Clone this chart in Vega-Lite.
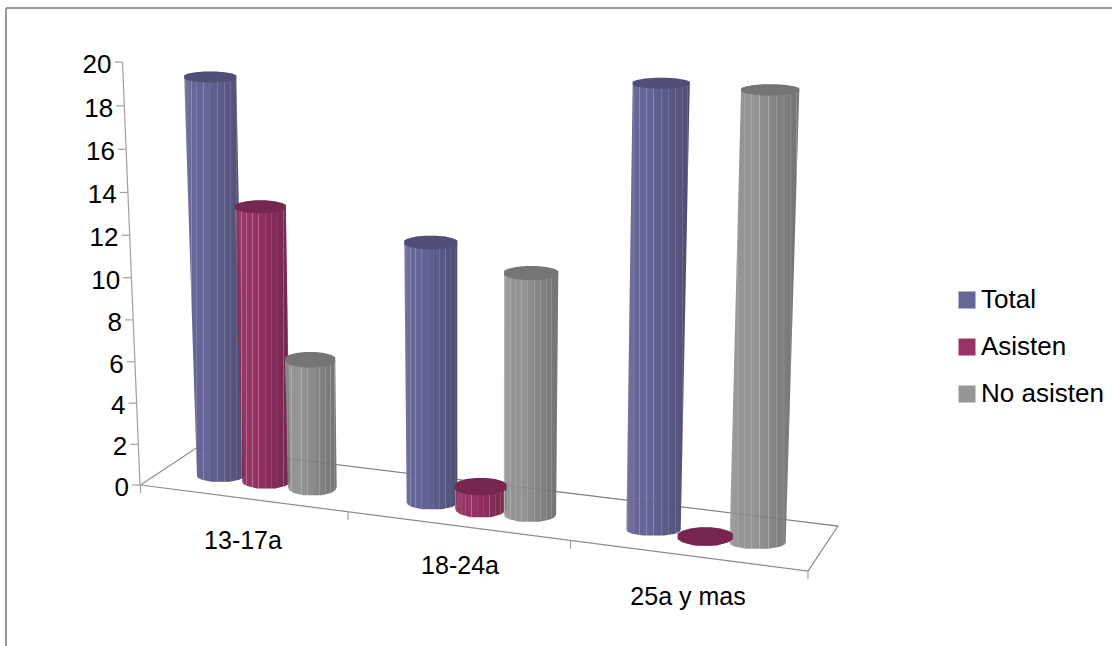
{"$schema":"https://vega.github.io/schema/vega-lite/v6.json","width":1112,"height":646,"padding":0,"autosize":{"type":"none"},"background":"white","config":{"view":{"stroke":null}},
"datasets":{"bars":[{"category":"13-17a","series":"Total","value":19},{"category":"13-17a","series":"Asisten","value":13},{"category":"13-17a","series":"No asisten","value":6},{"category":"18-24a","series":"Total","value":12},{"category":"18-24a","series":"Asisten","value":1},{"category":"18-24a","series":"No asisten","value":11},{"category":"25a y mas","series":"Total","value":20},{"category":"25a y mas","series":"Asisten","value":0},{"category":"25a y mas","series":"No asisten","value":20}],
"ticks":[{"tick":0},{"tick":2},{"tick":4},{"tick":6},{"tick":8},{"tick":10},{"tick":12},{"tick":14},{"tick":16},{"tick":18},{"tick":20}],
"floor":[{"i":0,"u":0,"v":0},{"i":1,"u":3,"v":0},{"i":2,"u":3,"v":1},{"i":3,"u":0,"v":1},{"i":4,"u":0,"v":0}],
"backEdge":[{"i":0,"u":0,"v":1},{"i":1,"u":3,"v":1}],
"boundaries":[{"b":0},{"b":1},{"b":2},{"b":3}],
"cats":[{"category":"13-17a","c":0},{"category":"18-24a","c":1},{"category":"25a y mas","c":2}]},
"layer":[
{"data":{"values":[{"k":1}]},"mark":{"type":"rule","stroke":"#9a9a9a","strokeWidth":2},"encoding":{"x":{"datum":-1.0387,"type":"quantitative","scale":{"domain":[-1.0678,4.3172],"nice":false,"zero":false},"axis":null},"y":{"datum":22.553,"type":"quantitative","scale":{"domain":[-7.61,22.93],"nice":false,"zero":false},"axis":null},"y2":{"datum":-7.61}}},
{"data":{"values":[{"k":1}]},"mark":{"type":"rule","stroke":"#9a9a9a","strokeWidth":2},"encoding":{"x":{"datum":-1.0387,"type":"quantitative","scale":{"domain":[-1.0678,4.3172],"nice":false,"zero":false},"axis":null},"x2":{"datum":4.3172},"y":{"datum":22.553,"type":"quantitative","scale":{"domain":[-7.61,22.93],"nice":false,"zero":false},"axis":null}}},
{"data":{"name":"floor"},"transform":[{"calculate":"(1-datum.v)*(-0.3874+datum.u/3*3.2324)+datum.v*(-0.1138+datum.u/3*3.1038)","as":"px"},{"calculate":"(1-datum.v)*(-datum.u/3*4.066)+datum.v*(1.773-datum.u/3*3.712)","as":"py"}],"mark":{"type":"line","stroke":"#8c8c8c","strokeWidth":1.2,"interpolate":"linear"},"encoding":{"x":{"field":"px","type":"quantitative","scale":{"domain":[-1.0678,4.3172],"nice":false,"zero":false},"axis":null},"y":{"field":"py","type":"quantitative","scale":{"domain":[-7.61,22.93],"nice":false,"zero":false},"axis":null},"order":{"field":"i"}}},
{"data":{"name":"boundaries"},"transform":[{"calculate":"-0.3874+0.9685*datum.b+0.0363*datum.b*datum.b","as":"px"},{"calculate":"-1.2576*(datum.px+0.3874)","as":"py"},{"calculate":"datum.py-0.39","as":"py2"}],"mark":{"type":"rule","stroke":"#a0a0a0","strokeWidth":1.2},"encoding":{"x":{"field":"px","type":"quantitative","scale":{"domain":[-1.0678,4.3172],"nice":false,"zero":false},"axis":null},"y":{"field":"py","type":"quantitative","scale":{"domain":[-7.61,22.93],"nice":false,"zero":false},"axis":null},"y2":{"field":"py2"}}},
{"data":{"name":"ticks"},"transform":[{"calculate":"-0.3898-0.004237*datum.tick","as":"px"},{"calculate":"datum.tick*(20.3+0.0425*datum.tick)/21.15","as":"py"},{"calculate":"datum.px-0.0387","as":"px2"}],"layer":[
{"transform":[{"filter":"datum.tick==0||datum.tick==20"}],"mark":{"type":"line","stroke":"#a0a0a0","strokeWidth":1.2},"encoding":{"x":{"field":"px","type":"quantitative","scale":{"domain":[-1.0678,4.3172],"nice":false,"zero":false},"axis":null},"y":{"field":"py","type":"quantitative","scale":{"domain":[-7.61,22.93],"nice":false,"zero":false},"axis":null},"order":{"field":"tick"}}},
{"mark":{"type":"rule","stroke":"#a0a0a0","strokeWidth":1.2},"encoding":{"x":{"field":"px","type":"quantitative","scale":{"domain":[-1.0678,4.3172],"nice":false,"zero":false},"axis":null},"x2":{"field":"px2"},"y":{"field":"py","type":"quantitative","scale":{"domain":[-7.61,22.93],"nice":false,"zero":false},"axis":null}}},
{"mark":{"type":"text","align":"right","baseline":"middle","dx":-11,"dy":3,"font":"Liberation Sans","fontSize":26,"fill":"#000"},"encoding":{"x":{"field":"px","type":"quantitative","scale":{"domain":[-1.0678,4.3172],"nice":false,"zero":false},"axis":null},"y":{"field":"py","type":"quantitative","scale":{"domain":[-7.61,22.93],"nice":false,"zero":false},"axis":null},"text":{"field":"tick","type":"quantitative"}}}
]},
{"data":{"name":"cats"},"transform":[{"calculate":"0.109+1.0245*datum.c+0.0265*datum.c*datum.c","as":"px"},{"calculate":"-2.648-1.04*datum.c-0.142*datum.c*datum.c","as":"py"}],"mark":{"type":"text","align":"center","baseline":"middle","font":"Liberation Sans","fontSize":25,"fill":"#000"},"encoding":{"x":{"field":"px","type":"quantitative","scale":{"domain":[-1.0678,4.3172],"nice":false,"zero":false},"axis":null},"y":{"field":"py","type":"quantitative","scale":{"domain":[-7.61,22.93],"nice":false,"zero":false},"axis":null},"text":{"field":"category","type":"nominal"}}},
{"data":{"name":"bars"},"transform":[
{"calculate":"indexof(['13-17a','18-24a','25a y mas'],datum.category)","as":"c"},
{"calculate":"indexof(['Total','Asisten','No asisten'],datum.series)","as":"s"},
{"calculate":"datum.category+'|'+datum.series","as":"barId"},
{"calculate":"datum.c+0.22*datum.s","as":"p"},
{"calculate":"datum.p+0.0242*datum.p*datum.p+0.0042*datum.c*datum.s","as":"X"},
{"calculate":"0.1138+0.0085*datum.X","as":"hwB"},
{"calculate":"datum.hwB+datum.value*(0.00064-0.00015*datum.X)","as":"hwT"},
{"calculate":"0.4255-1.2157*datum.X","as":"YB"},
{"calculate":"datum.YB+datum.value*(0.993+0.03*datum.X)","as":"Yt"},
{"calculate":"datum.X+0.0001*(datum.X-1.2567)*datum.value*(20.8+0.723*datum.X)","as":"TX"},
{"calculate":"0.42-0.008*datum.Yt","as":"a"}],
"layer":[
{"transform":[{"calculate":"[0,1,1.33,1.66,2]","as":"ts"},{"flatten":["ts"],"as":["t"]},{"calculate":"max(datum.t-1,0)","as":"q"},{"calculate":"min(datum.t,1)","as":"tt"},{"calculate":"datum.TX+(datum.X-datum.TX)*datum.tt","as":"cx"},{"calculate":"(datum.hwT+(datum.hwB-datum.hwT)*datum.tt)*sqrt(1-0.85*datum.q*datum.q)","as":"hw"},{"calculate":"datum.Yt+(datum.YB-datum.Yt)*datum.tt-datum.a*datum.q-0.0001*datum.t","as":"py"},{"calculate":"datum.cx-datum.hw","as":"xl"},{"calculate":"datum.cx+datum.hw","as":"xr"}],
"encoding":{"x":{"field":"xl","type":"quantitative","scale":{"domain":[-1.0678,4.3172],"nice":false,"zero":false},"axis":null},"x2":{"field":"xr"},"y":{"field":"py","type":"quantitative","scale":{"domain":[-7.61,22.93],"nice":false,"zero":false},"axis":null},"detail":{"field":"barId"}},
"layer":[
{"mark":{"type":"area","orient":"horizontal","opacity":1},"encoding":{"color":{"field":"series","type":"nominal","scale":{"domain":["Total","Asisten","No asisten"],"range":["#666699","#993366","#969696"]},"legend":{"title":null,"orient":"none","legendX":954,"legendY":287,"symbolType":"square","symbolSize":289,"symbolStrokeWidth":0,"labelFont":"Liberation Sans","labelFontSize":26,"labelColor":"#000","labelOffset":1,"rowPadding":21,"padding":0}}}},
{"mark":{"type":"area","orient":"horizontal","color":{"gradient":"linear","x1":0,"x2":1,"y1":0,"y2":0,"stops":[{"offset":0,"color":"rgba(255,255,255,0.12)"},{"offset":0.3,"color":"rgba(0,0,0,0)"},{"offset":1,"color":"rgba(0,0,0,0.24)"}]}}},
{"mark":{"type":"area","orient":"horizontal","color":{"gradient":"linear","x1":0,"x2":1,"y1":0,"y2":0,"stops":[{"offset":0.0,"color":"rgba(255,255,255,0.35)"},{"offset":0.025,"color":"rgba(255,255,255,0)"},{"offset":0.11,"color":"rgba(255,255,255,0)"},{"offset":0.12,"color":"rgba(255,255,255,0.28)"},{"offset":0.13,"color":"rgba(255,255,255,0)"},{"offset":0.2,"color":"rgba(255,255,255,0)"},{"offset":0.21,"color":"rgba(255,255,255,0.3)"},{"offset":0.22,"color":"rgba(255,255,255,0)"},{"offset":0.31,"color":"rgba(255,255,255,0)"},{"offset":0.32,"color":"rgba(255,255,255,0.3)"},{"offset":0.33,"color":"rgba(255,255,255,0)"},{"offset":0.42,"color":"rgba(255,255,255,0)"},{"offset":0.43,"color":"rgba(255,255,255,0.3)"},{"offset":0.44,"color":"rgba(255,255,255,0)"},{"offset":0.55,"color":"rgba(255,255,255,0)"},{"offset":0.56,"color":"rgba(255,255,255,0.3)"},{"offset":0.57,"color":"rgba(255,255,255,0)"},{"offset":0.66,"color":"rgba(255,255,255,0)"},{"offset":0.67,"color":"rgba(255,255,255,0.28)"},{"offset":0.68,"color":"rgba(255,255,255,0)"},{"offset":0.77,"color":"rgba(255,255,255,0)"},{"offset":0.78,"color":"rgba(255,255,255,0.28)"},{"offset":0.79,"color":"rgba(255,255,255,0)"},{"offset":0.87,"color":"rgba(255,255,255,0)"},{"offset":0.88,"color":"rgba(255,255,255,0.28)"},{"offset":0.89,"color":"rgba(255,255,255,0)"},{"offset":0.95,"color":"rgba(255,255,255,0)"},{"offset":0.96,"color":"rgba(255,255,255,0.25)"},{"offset":0.97,"color":"rgba(255,255,255,0)"},{"offset":1,"color":"rgba(255,255,255,0)"}]}}}
]},
{"transform":[{"calculate":"[-1,-0.85,-0.55,-0.2,0.2,0.55,0.85,1]","as":"ks"},{"flatten":["ks"],"as":["k"]},{"calculate":"datum.TX+datum.hwT*datum.k","as":"cxp"},{"calculate":"datum.a*sqrt(1-0.9*datum.k*datum.k)","as":"yh"},{"calculate":"datum.Yt+datum.yh","as":"y1"},{"calculate":"datum.Yt-datum.yh","as":"y2v"}],
"encoding":{"x":{"field":"cxp","type":"quantitative","scale":{"domain":[-1.0678,4.3172],"nice":false,"zero":false},"axis":null},"y":{"field":"y1","type":"quantitative","scale":{"domain":[-7.61,22.93],"nice":false,"zero":false},"axis":null},"y2":{"field":"y2v"},"detail":{"field":"barId"}},
"layer":[
{"mark":{"type":"area","opacity":1},"encoding":{"color":{"field":"series","type":"nominal","scale":{"domain":["Total","Asisten","No asisten"],"range":["#666699","#993366","#969696"]}}}},
{"mark":{"type":"area","color":"#000000","opacity":0.22}}
]}
]},
{"data":{"name":"backEdge"},"transform":[{"calculate":"-0.1138+datum.u/3*3.1038","as":"px"},{"calculate":"1.773-datum.u/3*3.712","as":"py"}],"mark":{"type":"line","stroke":"#555555","strokeWidth":1,"opacity":0.2},"encoding":{"x":{"field":"px","type":"quantitative","scale":{"domain":[-1.0678,4.3172],"nice":false,"zero":false},"axis":null},"y":{"field":"py","type":"quantitative","scale":{"domain":[-7.61,22.93],"nice":false,"zero":false},"axis":null},"order":{"field":"i"}}}
]}
